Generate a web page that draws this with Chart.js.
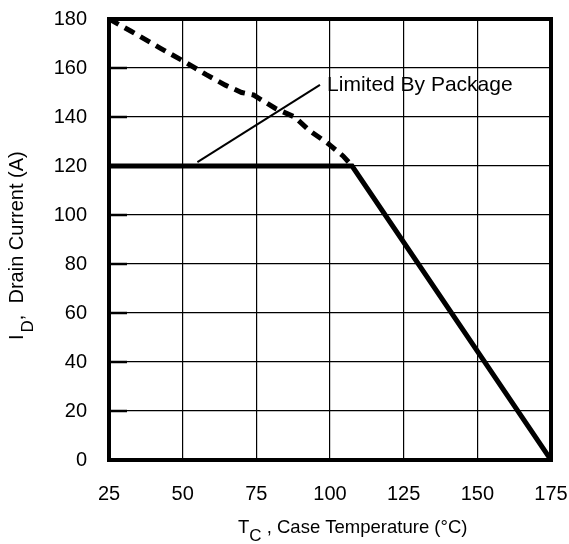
<!DOCTYPE html>
<html><head><meta charset="utf-8">
<script src="https://cdn.jsdelivr.net/npm/chart.js@4.4.1/dist/chart.umd.min.js"></script>
<style>html,body{margin:0;padding:0;background:#fff;}#wrap{width:569px;height:544px;}</style>
</head><body><div id="wrap"><canvas id="c" width="569" height="544"></canvas></div>
<script>
// ---- data ----
const xTicks = [25, 50, 75, 100, 125, 150, 175];
const yTicks = [0, 20, 40, 60, 80, 100, 120, 140, 160, 180];

// solid curve: package limit then thermal derating
const tempSolid = [25, 107.5, 175];
const currentSolid = [120, 120, 0];

// dashed curve: silicon limit
const tempDashed = [25, 32.5, 42.5, 50, 58, 64.5, 70, 74, 81.5, 88, 93, 99.5, 104.5, 107.5];
const currentDashed = [180, 175, 168, 163, 157.3, 153, 150, 149, 143.5, 140, 134.5, 129, 124, 120];

// leader line for the annotation
const leaderTemp = [55, 96.6];
const leaderCurrent = [121.6, 153.1];

const noteText = 'Limited By Package';
const noteTemp = 99;
const noteCurrent = 150.6;

const FONT = '"Liberation Sans", Arial, Helvetica, sans-serif';

function pts(xs, ys) { return xs.map((x, i) => ({ x: x, y: ys[i] })); }

const framePlugin = {
  id: 'frame',
  afterDraw(chart) {
    const ctx = chart.ctx;
    const a = chart.chartArea;
    const xs = chart.scales.x, ys = chart.scales.y;
    ctx.save();
    ctx.strokeStyle = '#000';
    ctx.lineWidth = 2.5;
    yTicks.forEach(v => {
      const py = ys.getPixelForValue(v);
      ctx.beginPath();
      ctx.moveTo(a.left, py);
      ctx.lineTo(a.left + 18, py);
      ctx.stroke();
    });
    ctx.lineWidth = 4;
    ctx.strokeRect(a.left, a.top, a.right - a.left, a.bottom - a.top);

    ctx.fillStyle = '#000';
    ctx.textBaseline = 'alphabetic';
    ctx.textAlign = 'left';
    ctx.font = '21px ' + FONT;
    ctx.fillText(noteText, xs.getPixelForValue(noteTemp), ys.getPixelForValue(noteCurrent));

    // x axis title: T_C , Case Temperature (°C)
    const by = a.bottom + 73;
    let x0 = a.left + 129;
    ctx.font = '18.5px ' + FONT;
    ctx.fillText('T', x0, by);
    x0 += ctx.measureText('T').width;
    ctx.font = '17px ' + FONT;
    ctx.fillText('C', x0, by + 8);
    x0 += ctx.measureText('C').width;
    ctx.font = '18.5px ' + FONT;
    ctx.fillText(' , Case Temperature (\u00B0C)', x0, by);

    // y axis title: I_D, Drain Current (A)
    ctx.translate(23, a.bottom - 120);
    ctx.rotate(-Math.PI / 2);
    let t0 = 0;
    ctx.font = '20px ' + FONT;
    ctx.fillText('I', t0, 0);
    t0 += ctx.measureText('I').width + 2;
    ctx.font = '17px ' + FONT;
    ctx.fillText('D', t0, 10);
    t0 += ctx.measureText('D').width;
    ctx.font = '20px ' + FONT;
    ctx.fillText(',  Drain Current (A)', t0, 0);
    ctx.restore();
  }
};

new Chart(document.getElementById('c'), {
  type: 'line',
  data: {
    datasets: [
      { label: 'Limit', data: pts(tempSolid, currentSolid), borderColor: '#000', borderWidth: 5,
        pointRadius: 0, tension: 0, fill: false, borderJoinStyle: 'miter' },
      { label: 'Silicon', data: pts(tempDashed, currentDashed), borderColor: '#000', borderWidth: 5,
        borderDash: [11, 7], pointRadius: 0, tension: 0, fill: false },
      { label: 'Leader', data: pts(leaderTemp, leaderCurrent), borderColor: '#000', borderWidth: 2,
        pointRadius: 0, tension: 0, fill: false }
    ]
  },
  options: {
    responsive: false,
    animation: false,
    events: [],
    plugins: { legend: { display: false }, tooltip: { enabled: false } },
    layout: { padding: { top: 19, right: 18, left: 0, bottom: 0 } },
    scales: {
      x: {
        type: 'linear', min: 25, max: 175,
        afterBuildTicks(s) { s.ticks = xTicks.map(v => ({ value: v })); },
        afterFit(s) { s.height = 84; s.paddingLeft = 0; s.paddingRight = 0; },
        grid: { color: '#000', lineWidth: 1.2, drawTicks: false },
        border: { display: false },
        ticks: { font: { family: FONT, size: 20 }, color: '#000', padding: 22, maxRotation: 0 }
      },
      y: {
        type: 'linear', min: 0, max: 180,
        afterBuildTicks(s) { s.ticks = yTicks.map(v => ({ value: v })); },
        afterFit(s) { s.width = 109; s.paddingTop = 0; s.paddingBottom = 0; },
        grid: { color: '#000', lineWidth: 1.2, drawTicks: false },
        border: { display: false },
        ticks: { font: { family: FONT, size: 20 }, color: '#000', padding: 22 }
      }
    }
  },
  plugins: [framePlugin]
});
</script>
</body></html>
